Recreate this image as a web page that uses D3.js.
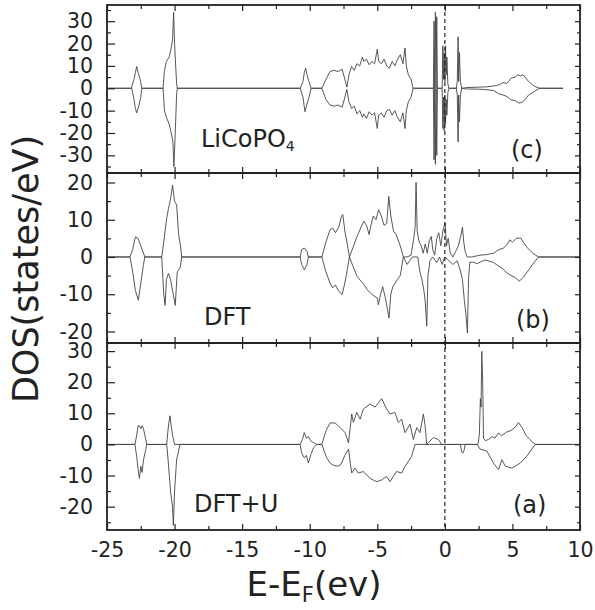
<!DOCTYPE html>
<html>
<head>
<meta charset="utf-8">
<script src="https://cdn.jsdelivr.net/npm/d3@7"></script>
<style>
  body { margin: 0; background: #fff; }
  text { font-family: "DejaVu Sans", sans-serif; fill: #222; }
</style>
</head>
<body>
<script>
// energy (eV), DOS (states/eV); spin up > 0, spin down < 0

// (c) LiCoPO4
var cUp = [[-25,0],[-23.2,0],[-23.0,4],[-22.9,7],[-22.8,9.7],[-22.7,7],[-22.55,4],[-22.43,0],
  [-20.85,0],[-20.75,8],[-20.6,12],[-20.4,14],[-20.25,18],[-20.15,22],[-20.07,34],[-20.0,20],[-19.85,2],[-19.8,0],
  [-10.7,0],[-10.5,3],[-10.4,7],[-10.3,9],[-10.2,6],[-10.05,3],[-9.9,0],
  [-9.1,0],[-8.8,4],[-8.5,7.5],[-8.2,8],[-7.9,7.5],[-7.6,8.5],[-7.4,4],[-7.25,0.5],
  [-7.1,6],[-6.9,9.7],[-6.7,8],[-6.5,11],[-6.3,10],[-6.1,14],[-6.0,12],[-5.8,13],[-5.6,10.5],[-5.4,12],[-5.2,11],
  [-5.0,17.5],[-4.9,12],[-4.7,11],[-4.5,13],[-4.3,10],[-4.1,9],[-3.9,12],[-3.7,10],[-3.5,13],[-3.3,15],[-3.1,11],
  [-2.95,18],[-2.85,10],[-2.7,6],[-2.5,4],[-2.35,0],
  [-0.85,0],[-0.8,30],[-0.75,0],[-0.7,34],[-0.65,0],[-0.6,32],[-0.55,0],
  [-0.2,0],[-0.15,19],[-0.1,4],[-0.05,16],[0,3],[0.05,19],[0.1,6],[0.15,14],[0.22,2],[0.3,0],
  [0.85,0],[0.92,3],[0.98,23],[1.02,3],[1.08,16],[1.15,3],[1.25,0],
  [1.6,0.3],[2.5,0.5],[3.0,0.6],[3.6,1],[4.0,1.5],[4.3,2.5],[4.6,2.2],[4.9,4.5],[5.2,5],[5.4,6],[5.6,5.5],[5.8,6],
  [6.2,3],[6.6,1],[7.0,0],[8.75,0]];
var cDn = [[-25,0],[-23.17,0],[-23.0,-5],[-22.9,-9],[-22.8,-11],[-22.65,-8],[-22.5,-4],[-22.43,0],
  [-20.85,0],[-20.75,-10],[-20.6,-13],[-20.4,-16],[-20.25,-20],[-20.12,-24],[-20.05,-35],[-19.95,-20],[-19.85,-3],[-19.8,0],
  [-10.7,0],[-10.5,-4],[-10.35,-10.5],[-10.2,-7],[-10.05,-4],[-9.9,0],
  [-9.1,0],[-8.8,-5],[-8.5,-7.5],[-8.2,-8],[-7.9,-7.5],[-7.6,-8.5],[-7.4,-4],[-7.25,-0.5],
  [-7.1,-6],[-6.9,-9],[-6.7,-8],[-6.5,-11.5],[-6.3,-10],[-6.1,-13],[-6.0,-11.5],[-5.8,-13.5],[-5.6,-10.5],[-5.4,-12],[-5.2,-11],
  [-5.0,-18],[-4.9,-12],[-4.7,-11],[-4.5,-13],[-4.3,-10],[-4.1,-9.5],[-3.9,-12],[-3.7,-10],[-3.5,-13],[-3.3,-15],[-3.1,-11],
  [-2.95,-18],[-2.85,-10],[-2.7,-6],[-2.5,-4],[-2.35,0],
  [-0.85,0],[-0.8,-32],[-0.75,0],[-0.7,-34],[-0.65,0],[-0.6,-30],[-0.55,0],
  [-0.2,0],[-0.15,-18],[-0.1,-4],[-0.05,-19],[0,-3],[0.05,-16],[0.1,-5],[0.15,-12],[0.22,-2],[0.3,0],
  [0.85,0],[0.92,-3],[0.98,-24],[1.02,-3],[1.08,-15],[1.15,-3],[1.25,0],
  [1.6,-0.3],[2.5,-0.4],[3.0,-0.6],[3.6,-1],[4.0,-2.5],[4.3,-3],[4.6,-3.7],[4.9,-5.2],[5.2,-5.5],[5.5,-6.7],[5.8,-6],
  [6.2,-3],[6.6,-1.5],[7.0,0],[8.75,0]];

// (b) DFT
var bUp = [[-25,0],[-23.3,0],[-23.1,2],[-22.9,5.4],[-22.7,5],[-22.5,3],[-22.3,1],[-22.2,0],
  [-20.95,0],[-20.8,4],[-20.6,10],[-20.45,13],[-20.3,15.5],[-20.15,19.3],[-20.0,15],[-19.85,14],[-19.7,6],[-19.55,2.7],[-19.47,0],
  [-10.7,0],[-10.6,2],[-10.4,2.4],[-10.2,1.5],[-10.1,0],
  [-9.1,0],[-8.8,4],[-8.5,7.3],[-8.3,7.8],[-8.1,6.5],[-7.85,8],[-7.65,11],[-7.55,11.4],[-7.4,7],[-7.2,3],[-7.06,0],
  [-6.8,2.5],[-6.5,5.5],[-6.2,8],[-6.0,9.6],[-5.8,8.5],[-5.6,6],[-5.5,8],[-5.3,11],[-5.1,10],[-4.9,12.7],[-4.7,11],
  [-4.5,8.5],[-4.3,9],[-4.15,16.3],[-4.0,11],[-3.8,7],[-3.6,6],[-3.3,3],[-3.07,0],
  [-2.8,0],[-2.5,0.5],[-2.3,5],[-2.2,8],[-2.13,20],[-2.05,7],[-1.9,4],[-1.75,3],[-1.6,1],[-1.45,3.5],[-1.3,1],
  [-1.15,4.4],[-1.0,5.5],[-0.9,2],[-0.75,0.5],[-0.6,5],[-0.45,6.5],[-0.3,3],[-0.15,7],[0.02,9.1],[0.12,3],[0.25,5],
  [0.4,1],[0.6,0],[0.8,1.5],[1.0,3],[1.2,6],[1.3,8],[1.4,4],[1.5,1.5],[1.65,0],
  [2.0,0],[2.6,0.5],[3.0,0.6],[3.6,1],[4.0,2],[4.3,2.3],[4.6,3.3],[4.8,4.6],[5.0,4],[5.3,5],[5.6,5.1],[5.8,4],
  [6.1,2.5],[6.5,1],[6.93,0],[10,0]];
var bDn = [[-25,0],[-23.3,0],[-23.1,-4],[-22.9,-9],[-22.68,-11.6],[-22.5,-7],[-22.3,-2],[-22.2,0],
  [-20.95,0],[-20.8,-10],[-20.7,-13],[-20.6,-6],[-20.45,-4.4],[-20.3,-6],[-20.1,-10],[-19.95,-13],[-19.8,-4],[-19.6,-3],[-19.47,0],
  [-10.7,0],[-10.6,-2],[-10.4,-3.4],[-10.2,-2],[-10.1,0],
  [-9.1,0],[-8.8,-4],[-8.5,-7],[-8.3,-8.3],[-8.1,-7.5],[-7.85,-9.2],[-7.6,-10.1],[-7.4,-7],[-7.2,-3],[-7.06,0],
  [-6.8,-2.5],[-6.5,-5.2],[-6.2,-6.5],[-6.0,-7.4],[-5.7,-9],[-5.4,-10],[-5.2,-10.6],[-5.0,-11],[-4.92,-12.8],[-4.75,-10],
  [-4.6,-8],[-4.4,-11],[-4.25,-14],[-4.13,-16.4],[-4.0,-10],[-3.85,-8],[-3.68,-7],[-3.5,-6],[-3.3,-5],[-3.07,0],
  [-2.8,-2],[-2.6,-1],[-2.4,0],[-2.0,0],[-1.85,-4],[-1.7,-6],[-1.55,-9],[-1.45,-12],[-1.34,-18.6],[-1.25,-5],[-1.1,-1],
  [-0.9,0],[-0.6,-1.5],[-0.4,0],[-0.2,-2],[0,0],[0.3,-1],[0.6,-2],[0.9,-1],[1.1,-3],[1.3,-6],[1.45,-12],[1.55,-15],
  [1.67,-20.4],[1.75,-6],[1.85,-1.4],[2.1,-1.4],[2.4,-1.8],[2.7,-1.2],
  [3.0,-0.8],[3.6,-1.5],[4.0,-2.5],[4.3,-3.2],[4.6,-4.3],[4.9,-5],[5.2,-5.5],[5.5,-6.5],[5.8,-5.5],[6.1,-4],
  [6.5,-2],[6.93,0],[10,0]];

// (a) DFT+U
var aUp = [[-25,0],[-22.93,0],[-22.8,3],[-22.7,6],[-22.6,6],[-22.5,5],[-22.4,6],[-22.3,5],[-22.15,2],[-22.06,0],
  [-20.58,0],[-20.5,4],[-20.42,7],[-20.34,9.2],[-20.25,6],[-20.15,3],[-20.0,0],
  [-10.71,0],[-10.55,1.5],[-10.4,3.8],[-10.25,2],[-10.1,2.5],[-9.9,1],[-9.6,0.3],[-9.48,0],
  [-9.1,0],[-8.9,3],[-8.74,4.9],[-8.49,6.9],[-8.12,6.9],[-7.75,5.4],[-7.38,3.8],[-7.13,0.5],
  [-6.89,9.8],[-6.77,7.1],[-6.52,10.3],[-6.27,8.1],[-6.03,11.4],[-5.53,13],[-5.17,12],[-4.68,14.7],[-4.31,11.4],
  [-4.06,9.8],[-3.69,10.3],[-3.45,7.1],[-3.2,8.1],[-2.95,3.8],[-2.58,6.5],[-2.33,1.6],[-2.08,5.4],[-1.84,3.8],
  [-1.59,9.8],[-1.46,6],[-1.34,0],
  [-1.1,1.1],[-0.85,2.2],[-0.48,1.6],[-0.23,0],
  [2.45,0],[2.55,3],[2.63,14.7],[2.68,12],[2.73,29.9],[2.8,20],[2.86,2],[3.0,1.2],[3.22,1.6],[3.5,2.5],[3.7,2],
  [3.97,3.7],[4.2,2.8],[4.58,4],[4.9,4.5],[5.2,5.5],[5.45,7],[5.7,5.5],[6.0,3],[6.3,1.5],[6.68,0],[10,0]];
var aDn = [[-25,0],[-22.93,0],[-22.8,-4],[-22.7,-8],[-22.6,-10.9],[-22.5,-7],[-22.4,-9],[-22.3,-5],[-22.15,-2],[-22.06,0],
  [-20.58,0],[-20.45,-6.5],[-20.3,-15],[-20.15,-20],[-20.09,-26],[-20.0,-15],[-19.85,-5],[-19.6,0],
  [-10.71,0],[-10.6,-2.7],[-10.4,-4.3],[-10.25,-3.5],[-10.1,-6],[-9.9,-3],[-9.7,-1],[-9.48,0],
  [-9.1,0],[-8.9,-2.5],[-8.74,-4.3],[-8.49,-6],[-8.2,-6.8],[-7.95,-7],[-7.7,-6.5],[-7.4,-3.5],[-7.13,-1.5],
  [-7.0,-6],[-6.89,-9.2],[-6.65,-7.6],[-6.4,-9.2],[-6.03,-8.7],[-5.53,-10.9],[-5.04,-12],[-4.68,-11.4],[-4.31,-10.3],
  [-4.06,-12],[-3.82,-10.3],[-3.57,-8.7],[-3.2,-9.2],[-2.95,-7.1],[-2.7,-5.4],[-2.46,-3.8],[-2.21,0],
  [1.15,0],[1.25,-2.5],[1.33,-2.8],[1.42,-2],[1.5,0],
  [2.4,0],[2.6,-1.5],[3.1,-2.1],[3.6,-6],[3.97,-8.1],[4.22,-4.9],[4.47,-7],[4.97,-7.6],[5.57,-6],[6.06,-3.8],
  [6.68,0],[10,0]];

var xTicks = [-25, -20, -15, -10, -5, 0, 5, 10];

var width = 595, height = 610;
var svg = d3.select("body").append("svg")
    .attr("width", width)
    .attr("height", height);

var x = d3.scaleLinear().domain([-25, 10]).range([107, 580]);
var xMinor = d3.range(-22.5, 10, 5);

var panels = [
  { up: cUp, dn: cDn, top: 5, bottom: 173, domain: [-37.9, 37.25], name: "LiCoPO", sub: "4", nx: 201, ny: 147, tag: "(c)", tx: 511, ty: 158 },
  { up: bUp, dn: bDn, top: 173, bottom: 343, domain: [-23.1, 22.55], name: "DFT", sub: "", nx: 204, ny: 325, tag: "(b)", tx: 516, ty: 328 },
  { up: aUp, dn: aDn, top: 343, bottom: 530, domain: [-27.5, 32.6], name: "DFT+U", sub: "", nx: 194, ny: 512, tag: "(a)", tx: 513, ty: 513 }
];

var fmt = function(d) { return String(d); };

panels.forEach(function(p, i) {
  var y = d3.scaleLinear().domain(p.domain).range([p.bottom, p.top]);
  var g = svg.append("g");

  var majors = d3.range(-30, 31, 10).filter(function(v) { return v >= p.domain[0] && v <= p.domain[1]; });
  var minors = d3.range(-35, 36, 10).filter(function(v) { return v >= p.domain[0] && v <= p.domain[1]; });

  // curves
  var line = d3.line().x(function(d) { return x(d[0]); }).y(function(d) { return y(d[1]); });
  [p.up, p.dn].forEach(function(s) {
    g.append("path").datum(s)
      .attr("d", line)
      .attr("fill", "none")
      .attr("stroke", "#444")
      .attr("stroke-width", 0.9);
  });

  // left axis, ticks pointing in
  g.append("g").attr("transform", "translate(" + x.range()[0] + ",0)")
    .call(d3.axisLeft(y).tickValues(majors).tickSize(-8).tickPadding(14).tickFormat(fmt))
    .call(function(a) { a.select(".domain").remove(); a.selectAll("text").attr("font-size", 20.5); });
  g.append("g").attr("transform", "translate(" + x.range()[0] + ",0)")
    .call(d3.axisLeft(y).tickValues(minors).tickSize(-4).tickFormat(""))
    .call(function(a) { a.select(".domain").remove(); });

  // right axis
  g.append("g").attr("transform", "translate(" + x.range()[1] + ",0)")
    .call(d3.axisRight(y).tickValues(majors).tickSize(-5).tickFormat(""))
    .call(function(a) { a.select(".domain").remove(); });
  g.append("g").attr("transform", "translate(" + x.range()[1] + ",0)")
    .call(d3.axisRight(y).tickValues(minors).tickSize(-3).tickFormat(""))
    .call(function(a) { a.select(".domain").remove(); });

  // top and bottom ticks
  g.append("g").attr("transform", "translate(0," + p.top + ")")
    .call(d3.axisTop(x).tickValues(xTicks).tickSize(-6).tickFormat(""))
    .call(function(a) { a.select(".domain").remove(); });
  g.append("g").attr("transform", "translate(0," + p.top + ")")
    .call(d3.axisTop(x).tickValues(xMinor).tickSize(-4).tickFormat(""))
    .call(function(a) { a.select(".domain").remove(); });
  g.append("g").attr("transform", "translate(0," + p.bottom + ")")
    .call(d3.axisBottom(x).tickValues(xTicks).tickSize(-6).tickPadding(12).tickFormat(i === 2 ? fmt : ""))
    .call(function(a) { a.select(".domain").remove(); a.selectAll("text").attr("font-size", 20.5); });
  g.append("g").attr("transform", "translate(0," + p.bottom + ")")
    .call(d3.axisBottom(x).tickValues(xMinor).tickSize(-4).tickFormat(""))
    .call(function(a) { a.select(".domain").remove(); });

  // frame
  g.append("rect")
    .attr("x", x.range()[0]).attr("y", p.top)
    .attr("width", x.range()[1] - x.range()[0]).attr("height", p.bottom - p.top)
    .attr("fill", "none").attr("stroke", "#222").attr("stroke-width", 1.8);

  g.selectAll(".tick line").attr("stroke", "#222").attr("stroke-width", 1.2);

  // labels
  var t = g.append("text").attr("x", p.nx).attr("y", p.ny).attr("font-size", 24).text(p.name);
  if (p.sub) t.append("tspan").attr("font-size", 14).attr("dy", 4).text(p.sub);
  g.append("text").attr("x", p.tx).attr("y", p.ty).attr("font-size", 24).text(p.tag);
});

// Fermi level
svg.append("line")
  .attr("x1", x(0)).attr("x2", x(0))
  .attr("y1", panels[0].top).attr("y2", panels[2].bottom)
  .attr("stroke", "#222").attr("stroke-width", 1.2)
  .attr("stroke-dasharray", "4,3");

// axis titles
svg.append("text")
  .attr("transform", "translate(38,269) rotate(-90)")
  .attr("text-anchor", "middle")
  .attr("font-size", 35)
  .text("DOS(states/eV)");

var xl = svg.append("text")
  .attr("x", 314).attr("y", 596)
  .attr("text-anchor", "middle")
  .attr("font-size", 34)
  .text("E-E");
xl.append("tspan").attr("font-size", 21).attr("dy", 6).text("F");
xl.append("tspan").attr("dy", -6).text("(ev)");
</script>
</body>
</html>
